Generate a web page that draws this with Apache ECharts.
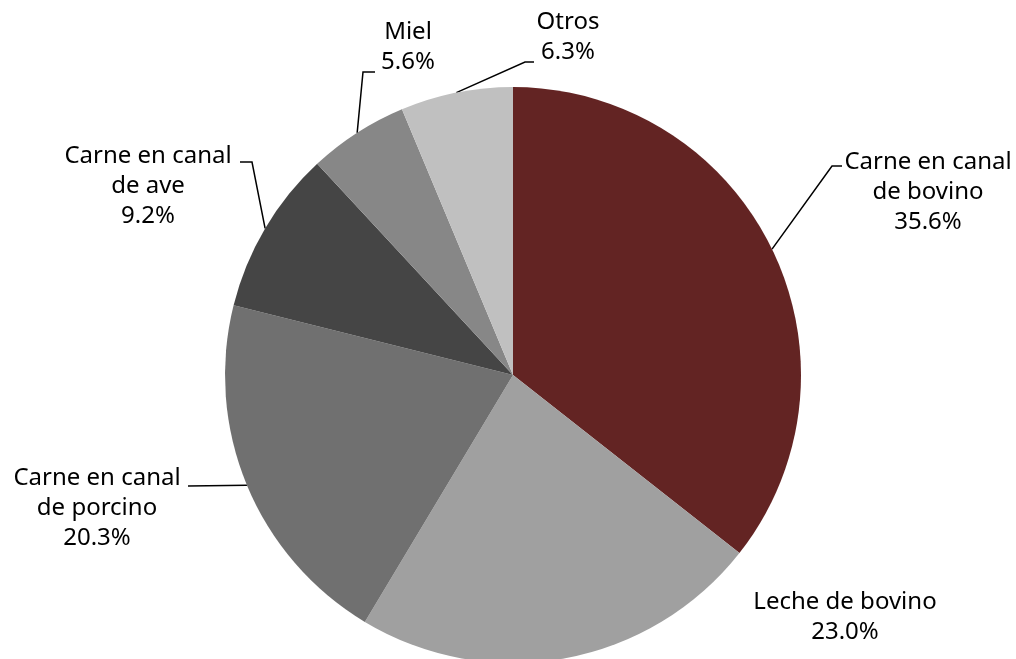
<!DOCTYPE html>
<html>
<head>
<meta charset="utf-8">
<script src="https://cdn.jsdelivr.net/npm/echarts@6/dist/echarts.min.js"></script>
<style>
html,body{margin:0;padding:0;background:#fff;}
#chart{width:1016px;height:659px;}
</style>
</head>
<body>
<div id="chart"></div>
<script>
var categories = ['Carne en canal\nde bovino', 'Leche de bovino', 'Carne en canal\nde porcino', 'Carne en canal\nde ave', 'Miel', 'Otros'];
var values = [35.6, 23.0, 20.3, 9.2, 5.6, 6.3];
var colors = ['#632423', '#a0a0a0', '#707070', '#454545', '#878787', '#c0c0c0'];

// label placement (text block centre) and leader-line elbows
var labelPos = [
  {x: 928, y: 192, line: [[832, 166], [842, 166]]},
  {x: 845, y: 617, line: null},
  {x: 97,  y: 508, line: [[188, 486]]},
  {x: 148, y: 186, line: [[252, 162], [240, 162]]},
  {x: 408, y: 47,  line: [[363, 72], [375, 72]]},
  {x: 568, y: 37,  line: [[525, 62], [534, 62]]}
];

var chart = echarts.init(document.getElementById('chart'));
chart.setOption({
  animation: false,
  backgroundColor: '#fff',
  series: [{
    type: 'pie',
    center: [513, 375],
    radius: 288,
    startAngle: 90,
    clockwise: true,
    avoidLabelOverlap: false,
    itemStyle: {borderWidth: 0},
    label: {
      show: true,
      position: 'outside',
      fontFamily: 'Noto Sans',
      fontSize: 24,
      lineHeight: 30,
      color: '#000',
      align: 'center',
      formatter: function (p) { return p.name + '\n' + p.value.toFixed(1) + '%'; }
    },
    labelLine: {show: true, lineStyle: {color: '#000', width: 1.5}},
    labelLayout: function (params) {
      var lp = labelPos[params.dataIndex];
      var res = {x: lp.x, y: lp.y, align: 'center', verticalAlign: 'middle'};
      if (lp.line && params.labelLinePoints) {
        res.labelLinePoints = [params.labelLinePoints[0]].concat(lp.line);
      }
      return res;
    },
    data: categories.map(function (c, i) {
      return {
        name: c,
        value: values[i],
        itemStyle: {color: colors[i]},
        labelLine: {show: labelPos[i].line !== null}
      };
    })
  }]
});
</script>
</body>
</html>
